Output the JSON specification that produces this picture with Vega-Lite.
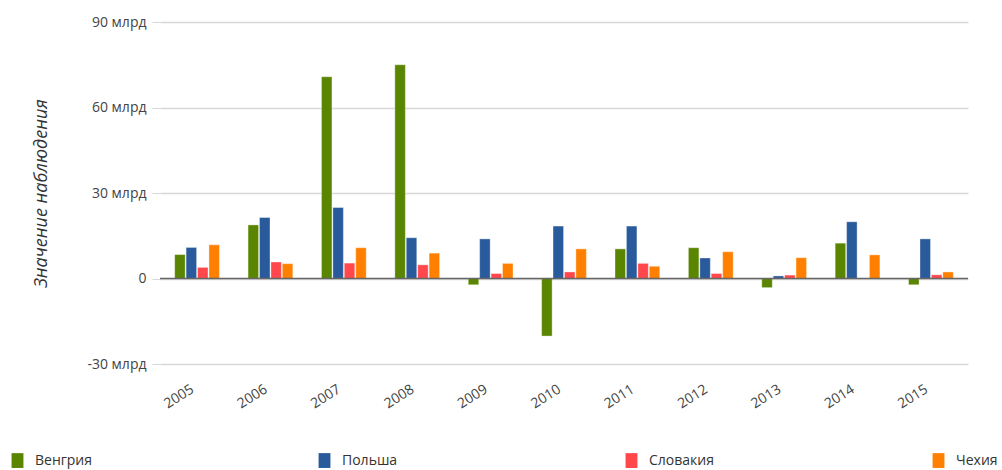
{
  "$schema": "https://vega.github.io/schema/vega-lite/v6.json",
  "width": 808,
  "height": 342,
  "autosize": "none",
  "padding": {"left": 160, "top": 22, "right": 34, "bottom": 106},
  "background": "#ffffff",
  "config": {"view": {"stroke": null}, "font": "Open Sans"},
  "data": {"values": [
    {"year": "2005", "country": "Венгрия", "value": 8.4},
    {"year": "2005", "country": "Польша", "value": 10.9},
    {"year": "2005", "country": "Словакия", "value": 3.9},
    {"year": "2005", "country": "Чехия", "value": 11.8},
    {"year": "2006", "country": "Венгрия", "value": 18.8},
    {"year": "2006", "country": "Польша", "value": 21.4},
    {"year": "2006", "country": "Словакия", "value": 5.8},
    {"year": "2006", "country": "Чехия", "value": 5.2},
    {"year": "2007", "country": "Венгрия", "value": 70.8},
    {"year": "2007", "country": "Польша", "value": 24.9},
    {"year": "2007", "country": "Словакия", "value": 5.4},
    {"year": "2007", "country": "Чехия", "value": 10.8},
    {"year": "2008", "country": "Венгрия", "value": 75.0},
    {"year": "2008", "country": "Польша", "value": 14.3},
    {"year": "2008", "country": "Словакия", "value": 4.8},
    {"year": "2008", "country": "Чехия", "value": 8.9},
    {"year": "2009", "country": "Венгрия", "value": -2.2},
    {"year": "2009", "country": "Польша", "value": 13.9},
    {"year": "2009", "country": "Словакия", "value": 1.75},
    {"year": "2009", "country": "Чехия", "value": 5.3},
    {"year": "2010", "country": "Венгрия", "value": -20.2},
    {"year": "2010", "country": "Польша", "value": 18.4},
    {"year": "2010", "country": "Словакия", "value": 2.3},
    {"year": "2010", "country": "Чехия", "value": 10.4},
    {"year": "2011", "country": "Венгрия", "value": 10.4},
    {"year": "2011", "country": "Польша", "value": 18.4},
    {"year": "2011", "country": "Словакия", "value": 5.3},
    {"year": "2011", "country": "Чехия", "value": 4.3},
    {"year": "2012", "country": "Венгрия", "value": 10.8},
    {"year": "2012", "country": "Польша", "value": 7.2},
    {"year": "2012", "country": "Словакия", "value": 1.75},
    {"year": "2012", "country": "Чехия", "value": 9.4},
    {"year": "2013", "country": "Венгрия", "value": -3.2},
    {"year": "2013", "country": "Польша", "value": 0.9},
    {"year": "2013", "country": "Словакия", "value": 1.2},
    {"year": "2013", "country": "Чехия", "value": 7.3},
    {"year": "2014", "country": "Венгрия", "value": 12.4},
    {"year": "2014", "country": "Польша", "value": 19.9},
    {"year": "2014", "country": "Словакия", "value": 0},
    {"year": "2014", "country": "Чехия", "value": 8.3},
    {"year": "2015", "country": "Венгрия", "value": -2.2},
    {"year": "2015", "country": "Польша", "value": 13.9},
    {"year": "2015", "country": "Словакия", "value": 1.3},
    {"year": "2015", "country": "Чехия", "value": 2.3}
  ]},
  "layer": [
    {
      "mark": {"type": "bar", "stroke": "#ffffff", "strokeWidth": 0.6, "strokeOpacity": 0.6},
      "encoding": {
        "x": {
          "field": "year", "type": "nominal",
          "scale": {"paddingInner": 0.39, "paddingOuter": 0.2},
          "axis": {
            "title": null, "domain": false, "ticks": false,
            "labelAngle": -32, "labelAlign": "right", "labelBaseline": "top",
            "labelFontSize": 14, "labelColor": "#444444", "labelPadding": 18,
            "labelOffset": -8,
            "labelFont": "Open Sans"
          }
        },
        "xOffset": {"field": "country", "type": "nominal", "scale": {"paddingInner": 0.08}},
        "y": {
          "field": "value", "type": "quantitative",
          "scale": {"domain": [-30, 90], "nice": false, "zero": false},
          "axis": {
            "values": [-30, 0, 30, 60, 90],
            "title": "Значение наблюдения",
            "titleFont": "Open Sans", "titleFontStyle": "italic", "titleFontWeight": "normal",
            "titleFontSize": 18, "titleColor": "#333333", "titlePadding": 36,
            "labelExpr": "datum.value == 0 ? '0' : datum.value + ' млрд'",
            "labelFontSize": 14, "labelColor": "#444444", "labelPadding": 6,
            "tickSize": 8, "tickColor": "#d8d8d8", "tickOffset": 0,
            "domain": false,
            "grid": true, "gridColor": "#d8d8d8", "gridWidth": 1.3
          }
        },
        "color": {
          "field": "country", "type": "nominal",
          "scale": {
            "domain": ["Венгрия", "Польша", "Словакия", "Чехия"],
            "range": ["#5a8500", "#285a9c", "#ff474c", "#ff8000"]
          },
          "legend": {
            "title": null, "orient": "none", "legendX": -150, "legendY": 431,
            "direction": "horizontal", "columns": 4, "gridAlign": "all",
            "columnPadding": 217,
            "symbolType": "M-0.8,-1H0.8V1H-0.8Z", "symbolSize": 220, "symbolStrokeWidth": 0,
            "labelFontSize": 14, "labelColor": "#333333", "labelFont": "Open Sans",
            "labelOffset": 10
          }
        }
      }
    },
    {
      "data": {"values": [{"zero": 0}]},
      "mark": {"type": "rule", "color": "#666666", "strokeWidth": 1.5},
      "encoding": {"y": {"field": "zero", "type": "quantitative"}}
    }
  ]
}
